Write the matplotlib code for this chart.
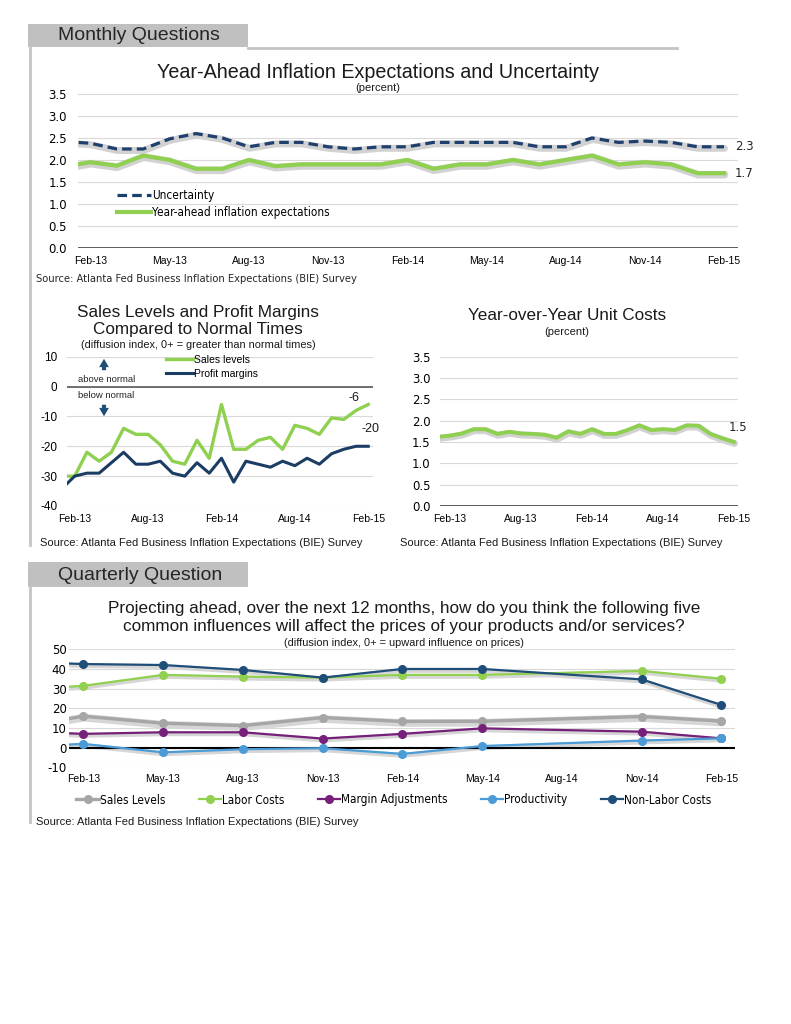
import numpy as np
import matplotlib
matplotlib.use("Agg")
import matplotlib.pyplot as plt
import matplotlib.transforms as mtransforms
from matplotlib.patches import Rectangle, FancyArrowPatch
from matplotlib.lines import Line2D

# ---------------- data ----------------
monthly_ticks = ['Feb-13', 'May-13', 'Aug-13', 'Nov-13', 'Feb-14', 'May-14', 'Aug-14', 'Nov-14', 'Feb-15']
semi_ticks = ['Feb-13', 'Aug-13', 'Feb-14', 'Aug-14', 'Feb-15']
# monthly series, Jan-13 .. Feb-15 (Jan-13 partly clipped at the axis edge)
uncertainty = [2.42, 2.38, 2.25, 2.25, 2.48, 2.6, 2.5, 2.3, 2.4, 2.4, 2.3, 2.25, 2.3,
               2.3, 2.4, 2.4, 2.4, 2.4, 2.3, 2.3, 2.5, 2.4, 2.43, 2.4, 2.3, 2.3]
inflation_exp = [1.85, 1.95, 1.87, 2.1, 2.0, 1.8, 1.8, 2.0, 1.86, 1.9, 1.9, 1.9, 1.9,
                 2.0, 1.8, 1.9, 1.9, 2.0, 1.9, 2.0, 2.1, 1.9, 1.95, 1.9, 1.7, 1.7]
sales_levels = [-30, -30, -22, -25, -22, -14, -16, -16, -19.5, -25, -26, -18, -24,
                -6, -21, -21, -18, -17, -21, -13, -14, -16, -10.5, -11, -8, -6]
profit_margins = [-34, -30, -29, -29, -25.5, -22, -26, -26, -25, -29, -30, -25.5, -29,
                  -24, -32, -25, -26, -27, -25, -26.5, -24, -26, -22.5, -21, -20, -20]
unit_costs = [1.62, 1.65, 1.70, 1.80, 1.80, 1.69, 1.74, 1.70, 1.69, 1.67, 1.60, 1.75, 1.69,
              1.80, 1.69, 1.69, 1.78, 1.89, 1.78, 1.80, 1.78, 1.89, 1.88, 1.69, 1.59, 1.50]

quarter_axis = ['Nov-12', 'Feb-13', 'May-13', 'Aug-13', 'Nov-13', 'Feb-14', 'May-14', 'Aug-14', 'Nov-14', 'Feb-15']
quarter_ticks = quarter_axis[1:]
survey_quarters = ['Nov-12', 'Feb-13', 'May-13', 'Aug-13', 'Nov-13', 'Feb-14', 'May-14', 'Nov-14', 'Feb-15']
q_sales = [9, 16, 12.4, 11.2, 15.3, 13.3, 13.4, 15.8, 13.5]
q_labor = [29, 31.4, 37, 36.1, 35.6, 37, 37, 39, 35]
q_margin = [8.5, 7, 7.8, 7.8, 4.6, 7, 9.8, 8.1, 4.7]
q_productivity = [0, 1.9, -2.4, -0.8, -0.3, -3.2, 0.8, 3.6, 4.7]
q_nonlabor = [44, 42.5, 42, 39.5, 35.6, 40, 40, 34.7, 21.7]

# ---------------- setup ----------------
W, H = 791, 1024
fig = plt.figure(figsize=(W / 100, H / 100), dpi=100)
fig.patch.set_facecolor('white')

ARIAL = 'Liberation Sans'
COND = dict(family='DejaVu Sans', stretch='condensed')
NAVY = '#1f3f6e'
GREEN = '#8fd050'
GRID = '#d9d9d9'
TXT = '#1a1a1a'


def add_ax(l, t, r, b):
    return fig.add_axes([l / W, 1 - b / H, (r - l) / W, (b - t) / H])


def fx(x):
    return x / W


def fy(y):
    return 1 - y / H


def shadow(ax, x, y, lw, dx=0.5, dy=-1.5, color='#d2d2d2'):
    tr = mtransforms.offset_copy(ax.transData, fig=fig, x=dx, y=dy, units='dots')
    ax.plot(x, y, color=color, lw=lw, transform=tr, solid_capstyle='round',
            solid_joinstyle='round', zorder=2)


def style_axes(ax):
    for s in ax.spines.values():
        s.set_visible(False)
    ax.tick_params(length=0)
    ax.set_axisbelow(True)


# ---------------- page decorations ----------------
gray_tab = '#c0c0c0'
fig.patches.append(Rectangle((fx(28), fy(47)), 220 / W, 23 / H, transform=fig.transFigure,
                             facecolor=gray_tab, edgecolor='none'))
fig.text(fx(58), fy(35.5), 'Monthly Questions', family=ARIAL, fontsize=14, color='#262626', va='center')
fig.add_artist(Line2D([fx(248), fx(677)], [fy(47.5), fy(47.5)], color='#c4c4c4', lw=2))
fig.add_artist(Line2D([fx(30), fx(30)], [fy(47), fy(545)], color='#c4c4c4', lw=2))

fig.patches.append(Rectangle((fx(28), fy(587)), 220 / W, 25 / H, transform=fig.transFigure,
                             facecolor=gray_tab, edgecolor='none'))
fig.text(fx(58), fy(575), 'Quarterly Question', family=ARIAL, fontsize=14, color='#262626', va='center')
fig.add_artist(Line2D([fx(30), fx(30)], [fy(587), fy(822)], color='#c4c4c4', lw=2))

# ---------------- chart 1: year-ahead inflation ----------------
xm = np.arange(-1, len(uncertainty) - 1)
ax1 = add_ax(78, 94, 738, 248)
style_axes(ax1)
ax1.set_xlim(-0.47, 24.53)
ax1.set_ylim(0, 3.5)
ax1.set_yticks(np.arange(0, 3.51, 0.5))
ax1.set_yticklabels([f'{v:.1f}' for v in np.arange(0, 3.51, 0.5)], family='DejaVu Sans', fontsize=8.5)
ax1.set_xticks(np.arange(0, 25, 3))
ax1.set_xticklabels(monthly_ticks, family=ARIAL, fontsize=7.5)
ax1.tick_params(axis='y', pad=8)
ax1.tick_params(axis='x', pad=6)
ax1.grid(axis='y', color=GRID, lw=0.8)
ax1.axhline(0, color='#404040', lw=1.2, zorder=3)
shadow(ax1, xm, uncertainty, lw=5)
shadow(ax1, xm, inflation_exp, lw=5.5)
l_unc, = ax1.plot(xm, uncertainty, color=NAVY, lw=2.3, dashes=(3, 1.6), zorder=4, label='Uncertainty')
l_inf, = ax1.plot(xm, inflation_exp, color=GREEN, lw=3, zorder=4, label='Year-ahead inflation expectations')
ax1.annotate('2.3', (24, uncertainty[-1]), xytext=(11, 0), textcoords='offset pixels',
             ha='left', va='center', family='DejaVu Sans', fontsize=8.5, color='#262626')
ax1.annotate('1.7', (24, inflation_exp[-1]), xytext=(11, 0), textcoords='offset pixels',
             ha='left', va='center', family='DejaVu Sans', fontsize=8.5, color='#262626')
ax1.legend(handles=[l_unc, l_inf], loc='upper left', bbox_to_anchor=(fx(117), fy(189)),
           bbox_transform=fig.transFigure, frameon=False, borderpad=0, borderaxespad=0,
           handlelength=2.9, handletextpad=0.1, labelspacing=0.35,
           prop=dict(size=8.5, **COND))
fig.text(fx(378), fy(77.5), 'Year-Ahead Inflation Expectations and Uncertainty', family=ARIAL,
         fontsize=14.2, ha='center', va='baseline', color=TXT)
fig.text(fx(378), fy(88), '(percent)', family=ARIAL, fontsize=8, ha='center', va='center', color=TXT)
fig.text(fx(36), fy(279), 'Source: Atlanta Fed Business Inflation Expectations (BIE) Survey',
         fontsize=8, ha='left', va='center', color='#262626', **COND)

# ---------------- chart 2: sales levels and profit margins ----------------
ax2 = add_ax(67, 356.7, 373, 506)
style_axes(ax2)
ax2.set_xlim(-0.63, 24.39)
ax2.set_ylim(-40, 10)
ax2.set_yticks(np.arange(-40, 11, 10))
ax2.set_yticklabels([str(v) for v in range(-40, 11, 10)], family=ARIAL, fontsize=8.5)
ax2.set_xticks(np.arange(0, 25, 6))
ax2.set_xticklabels(semi_ticks, family=ARIAL, fontsize=7.5)
ax2.tick_params(axis='y', pad=7)
ax2.tick_params(axis='x', pad=6)
ax2.grid(axis='y', color=GRID, lw=0.8)
ax2.axhline(0, color='#595959', lw=1.2, zorder=3)
l_sales, = ax2.plot(xm, sales_levels, color=GREEN, lw=2.4, zorder=4, label='Sales levels')
l_prof, = ax2.plot(xm, profit_margins, color='#1b3d63', lw=2.2, zorder=5, label='Profit margins')
ax2.annotate('-6', (24, sales_levels[-1]), xytext=(-14, 6), textcoords='offset pixels',
             ha='center', va='center', family=ARIAL, fontsize=9, color=TXT)
ax2.annotate('-20', (24, profit_margins[-1]), xytext=(2, 17), textcoords='offset pixels',
             ha='center', va='center', family=ARIAL, fontsize=9, color=TXT)
ax2.legend(handles=[l_sales, l_prof], loc='upper left', bbox_to_anchor=(fx(166), fy(355)),
           bbox_transform=fig.transFigure, frameon=False, borderpad=0, borderaxespad=0,
           handlelength=2.6, handletextpad=0.1, labelspacing=0.35,
           prop=dict(family=ARIAL, size=7.5))
arrow_kw = dict(arrowstyle='simple,head_length=0.6,head_width=0.7,tail_width=0.3', color='#1f4e79', lw=0)
fig.add_artist(FancyArrowPatch((104, H - 373), (104, H - 356), transform=None,
                               mutation_scale=10, **arrow_kw))
fig.add_artist(FancyArrowPatch((104, H - 402), (104, H - 419), transform=None,
                               mutation_scale=10, **arrow_kw))
fig.text(fx(78), fy(379.5), 'above normal', family=ARIAL, fontsize=6.8, va='center', color='#262626')
fig.text(fx(78), fy(396), 'below normal', family=ARIAL, fontsize=6.8, va='center', color='#262626')
fig.text(fx(198), fy(313), 'Sales Levels and Profit Margins', family=ARIAL, fontsize=12.3,
         ha='center', va='center', color=TXT)
fig.text(fx(198), fy(329.5), 'Compared to Normal Times', family=ARIAL, fontsize=12.3,
         ha='center', va='center', color=TXT)
fig.text(fx(198), fy(344.5), '(diffusion index, 0+ = greater than normal times)', family=ARIAL,
         fontsize=7.9, ha='center', va='center', color=TXT)
fig.text(fx(40), fy(543), 'Source: Atlanta Fed Business Inflation Expectations (BIE) Survey',
         family=ARIAL, fontsize=8, ha='left', va='center', color=TXT)

# ---------------- chart 3: unit costs ----------------
ax3 = add_ax(440, 356.7, 738, 506)
style_axes(ax3)
ax3.set_xlim(-0.85, 24.34)
ax3.set_ylim(0, 3.5)
ax3.set_yticks(np.arange(0, 3.51, 0.5))
ax3.set_yticklabels([f'{v:.1f}' for v in np.arange(0, 3.51, 0.5)], family='DejaVu Sans', fontsize=8.5)
ax3.set_xticks(np.arange(0, 25, 6))
ax3.set_xticklabels(semi_ticks, family=ARIAL, fontsize=7.5)
ax3.tick_params(axis='y', pad=7)
ax3.tick_params(axis='x', pad=6)
ax3.grid(axis='y', color=GRID, lw=0.8)
ax3.axhline(0, color='#404040', lw=1.2, zorder=3)
shadow(ax3, xm, unit_costs, lw=5)
ax3.plot(xm, unit_costs, color=GREEN, lw=2.8, zorder=4)
ax3.annotate('1.5', (24, unit_costs[-1]), xytext=(4, 15), textcoords='offset pixels',
             ha='center', va='center', family='DejaVu Sans', fontsize=8.5, color='#262626')
fig.text(fx(567), fy(315), 'Year-over-Year Unit Costs', family=ARIAL, fontsize=12.3,
         ha='center', va='center', color=TXT)
fig.text(fx(567), fy(332), '(percent)', family=ARIAL, fontsize=8, ha='center', va='center', color=TXT)
fig.text(fx(400), fy(543), 'Source: Atlanta Fed Business Inflation Expectations (BIE) Survey',
         family=ARIAL, fontsize=8, ha='left', va='center', color=TXT)

# ---------------- chart 4: quarterly ----------------
xq = [quarter_axis.index(q) - 1 for q in survey_quarters]
ax4 = add_ax(69.3, 649.3, 735, 767.3)
style_axes(ax4)
ax4.set_xlim(-0.175, 8.17)
ax4.set_ylim(-10, 50)
ax4.set_yticks(np.arange(-10, 51, 10))
ax4.set_yticklabels([str(v) for v in range(-10, 51, 10)], family='DejaVu Sans', fontsize=8.5)
ax4.set_xticks(np.arange(len(quarter_ticks)))
ax4.set_xticklabels(quarter_ticks, family=ARIAL, fontsize=7.5)
ax4.tick_params(axis='y', pad=2)
ax4.tick_params(axis='x', pad=5)
ax4.grid(axis='y', color=GRID, lw=0.8)
ax4.axhline(0, color='black', lw=1.5, zorder=3)

series_q = [
    ('Sales Levels', q_sales, '#a6a6a6'),
    ('Labor Costs', q_labor, '#92d050'),
    ('Margin Adjustments', q_margin, '#76207a'),
    ('Productivity', q_productivity, '#4a9bd6'),
    ('Non-Labor Costs', q_nonlabor, '#1f4e79'),
]
handles = []
for name, vals, col in series_q:
    shadow(ax4, xq, vals, lw=3.5 if name != 'Sales Levels' else 5.5, dx=0.5, dy=-1.5, color='#d6d6d6')
    h, = ax4.plot(xq, vals, color=col, lw=1.6 if name != 'Sales Levels' else 2.4, marker='o',
                  markersize=5.5, zorder=5, label=name)
    handles.append(h)
ax4.legend(handles=handles, loc='center', bbox_to_anchor=(fx(394), fy(800)),
           bbox_transform=fig.transFigure, ncol=5, frameon=False, borderpad=0, borderaxespad=0,
           handlelength=1.9, handletextpad=0.1, columnspacing=2.8,
           prop=dict(size=8.5, **COND))
fig.text(fx(404), fy(608), 'Projecting ahead, over the next 12 months, how do you think the following five',
         family=ARIAL, fontsize=12.3, ha='center', va='center', color=TXT)
fig.text(fx(404), fy(627), 'common influences will affect the prices of your products and/or services?',
         family=ARIAL, fontsize=12.3, ha='center', va='center', color=TXT)
fig.text(fx(404), fy(643.5), '(diffusion index, 0+ = upward influence on prices)',
         family=ARIAL, fontsize=7.9, ha='center', va='center', color=TXT)
fig.text(fx(36), fy(822), 'Source: Atlanta Fed Business Inflation Expectations (BIE) Survey',
         family=ARIAL, fontsize=8, ha='left', va='center', color=TXT)

fig.savefig('out.png', dpi=100, facecolor='white')
